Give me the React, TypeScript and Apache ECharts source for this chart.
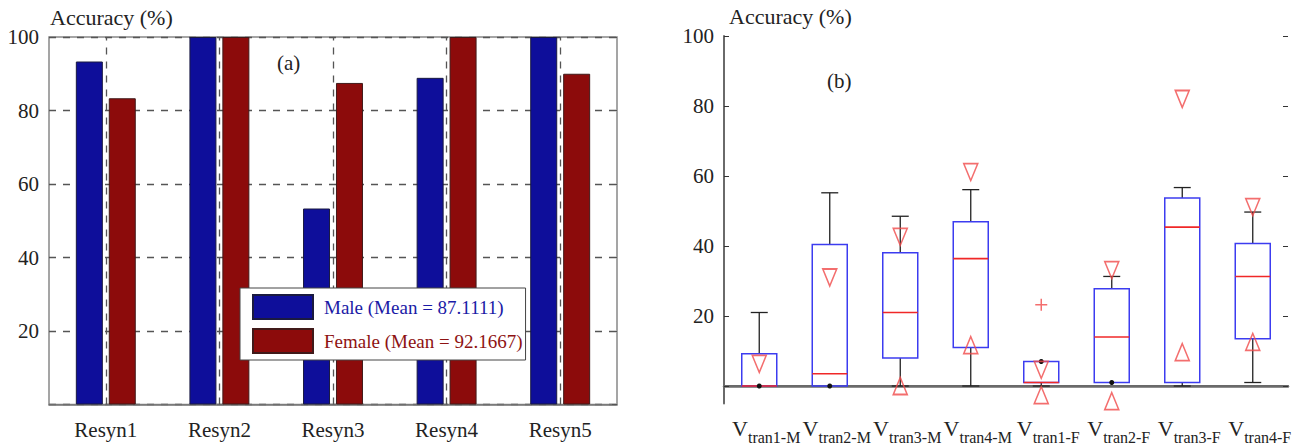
import React, { useEffect, useRef } from "react";
import * as echarts from "echarts";

const categories = ["Resyn1", "Resyn2", "Resyn3", "Resyn4", "Resyn5"];
const maleValues = [93.33, 100, 53.33, 88.89, 100];
const femaleValues = [83.33, 100, 87.5, 100, 90];
const maleName = "Male (Mean = 87.1111)";
const femaleName = "Female (Mean = 92.1667)";

const boxCategories = ["tran1-M", "tran2-M", "tran3-M", "tran4-M", "tran1-F", "tran2-F", "tran3-F", "tran4-F"];
const boxMin = [0, 0, 0, 0, 0, 1, 0, 1];
const boxQ1 = [0, 0, 8, 11, 1, 1, 1, 13.5];
const boxMedian = [0, 3.5, 21, 36.4, 1, 14, 45.4, 31.3];
const boxQ3 = [9.2, 40.4, 38.1, 46.9, 7, 27.8, 53.7, 40.7];
const boxMax = [21, 55.2, 48.5, 56.1, 7, 31.3, 56.7, 49.7];
const notchUpper = [6.3, 31, 42.6, 61.1, 4.6, 33.1, 82, 51.1];
const notchLower: (number | null)[] = [null, null, 0, 11.7, -2.6, -4.3, 9.7, 12.6];
const outliers: [number, number][] = [[4, 23.2]];

const rightTickLabels = [20, 40, 60, 80, 100];
const rightTicks = [0, 20, 40, 60, 80, 100];

const FONT = "Liberation Serif";
const BLUE = "#0e0e9a";
const RED = "#8c0b0b";
const BOX_BLUE = "#3c3cf0";
const MED_RED = "#f02828";
const TRI_RED = "#f04a4a";
const AXIS_GRAY = "#6a6a6a";

export default function App() {
  const ref = useRef<HTMLDivElement>(null);
  useEffect(() => {
    document.body.style.margin = "0";
    const chart = echarts.init(ref.current!, null, { renderer: "svg" });
    const txt = (size: number) => ({ fontFamily: FONT, fontSize: size, color: "#222" });
    const option: any = {
      animation: false,
      backgroundColor: "#fff",
      textStyle: { fontFamily: FONT },
      grid: [
        { left: 49, top: 37, width: 568, height: 367.5, show: true, borderColor: "#888", borderWidth: 1.5, backgroundColor: "transparent" },
        { left: 724, top: 36, width: 564, height: 367.5 },
      ],
      legend: {
        z: 20,
        data: [
          { name: maleName, textStyle: { color: "#1a1aa6" } },
          { name: femaleName, textStyle: { color: "#8e1212" } },
        ],
        orient: "vertical",
        left: 240,
        top: 288,
        itemWidth: 60,
        itemHeight: 24,
        itemGap: 8,
        padding: [6, 3, 6, 12],
        backgroundColor: "#fff",
        borderColor: "#444",
        borderWidth: 1,
        icon: "rect",
        textStyle: { fontFamily: FONT, fontSize: 19, padding: [0, 0, 0, 6] },
      },
      xAxis: [
        {
          type: "category", gridIndex: 0, data: categories,
          axisLine: { lineStyle: { color: "#777", width: 1.5 } },
          axisTick: { show: false },
          axisLabel: { ...txt(21), margin: 15 },
        },
        {
          type: "category", gridIndex: 1, data: boxCategories,
          axisLine: { lineStyle: { color: AXIS_GRAY, width: 2 } },
          axisTick: { show: false },
          axisLabel: {
            margin: 14,
            interval: 0,
            formatter: (v: string) => `{v|V}{s|${v}}`,
            padding: [0, 0, 0, 14],
            rich: {
              v: { ...txt(22), lineHeight: 22, verticalAlign: "top" },
              s: { ...txt(16), lineHeight: 16, verticalAlign: "top", padding: [12, 0, 0, 0] },
            },
          },
        },
        {
          type: "category", gridIndex: 1, data: boxCategories, position: "top",
          axisLine: { lineStyle: { color: AXIS_GRAY, width: 2.5 } },
          axisTick: { show: false }, axisLabel: { show: false },
        },
      ],
      yAxis: [
        {
          type: "value", gridIndex: 0, min: 0, max: 100, interval: 20,
          axisLine: { show: false },
          axisTick: { show: true, inside: true, length: 5, lineStyle: { color: "#555" } },
          axisLabel: { ...txt(21), margin: 10, showMinLabel: false },
          splitLine: { show: true, lineStyle: { type: [7, 7], color: "#555", width: 1.3 } },
        },
        {
          type: "value", gridIndex: 0, min: 0, max: 100, interval: 20, position: "right",
          axisLine: { show: false },
          axisTick: { show: true, inside: true, length: 5, lineStyle: { color: "#555" } },
          axisLabel: { show: false }, splitLine: { show: false },
        },
        {
          type: "value", gridIndex: 1, min: -5, max: 100,
          axisLine: { show: true, lineStyle: { color: AXIS_GRAY, width: 2 } },
          axisTick: { show: true, inside: true, length: 5, customValues: rightTicks, lineStyle: { color: "#333" } },
          axisLabel: { ...txt(21), margin: 10, customValues: rightTickLabels },
          splitLine: { show: false },
        },
        {
          type: "value", gridIndex: 1, min: -5, max: 100, position: "right",
          axisLine: { show: false },
          axisTick: { show: true, inside: true, length: 5, customValues: rightTicks, lineStyle: { color: "#333" } },
          axisLabel: { show: false }, splitLine: { show: false },
        },
      ],
      series: [
        {
          type: "line", xAxisIndex: 0, yAxisIndex: 0, data: [], z: 1,
          markLine: {
            silent: true, symbol: "none", label: { show: false },
            lineStyle: { type: [7, 7], color: "#555", width: 1.3 },
            data: categories.map((c) => ({ xAxis: c })),
          },
        },
        {
          name: maleName, type: "bar", xAxisIndex: 0, yAxisIndex: 0, data: maleValues,
          barWidth: 27, barGap: "22%",
          itemStyle: { color: BLUE, borderColor: "#1a1a40", borderWidth: 1 },
        },
        {
          name: femaleName, type: "bar", xAxisIndex: 0, yAxisIndex: 0, data: femaleValues,
          barWidth: 27, barGap: "22%",
          itemStyle: { color: RED, borderColor: "#401a1a", borderWidth: 1 },
        },
        {
          type: "custom", xAxisIndex: 1, yAxisIndex: 2,
          encode: { x: 0, y: [1, 2, 3, 4, 5] },
          data: boxCategories.map((_, i) => [i, boxMin[i], boxQ1[i], boxMedian[i], boxQ3[i], boxMax[i]]),
          renderItem: (params: any, api: any) => {
            const idx = api.value(0);
            const mn = api.value(1), q1 = api.value(2), md = api.value(3), q3 = api.value(4), mx = api.value(5);
            const x = api.coord([idx, q1])[0];
            const y = (v: number) => api.coord([idx, v])[1];
            const hw = 17.5, cw = 8.5;
            const black = { stroke: "#222", lineWidth: 1.3 };
            const children: any[] = [];
            const dots: any[] = [];
            if (mx > q3) {
              children.push({ type: "line", shape: { x1: x, y1: y(q3), x2: x, y2: y(mx) }, style: black });
              children.push({ type: "line", shape: { x1: x - cw, y1: y(mx), x2: x + cw, y2: y(mx) }, style: black });
            } else {
              dots.push({ type: "circle", shape: { cx: x, cy: y(q3), r: 2.5 }, style: { fill: "#111" } });
            }
            if (mn < q1) {
              children.push({ type: "line", shape: { x1: x, y1: y(q1), x2: x, y2: y(mn) }, style: black });
              children.push({ type: "line", shape: { x1: x - cw, y1: y(mn), x2: x + cw, y2: y(mn) }, style: black });
            } else {
              dots.push({ type: "circle", shape: { cx: x, cy: y(q1), r: 2.5 }, style: { fill: "#111" } });
            }
            children.push({
              type: "rect",
              shape: { x: x - hw, y: y(q3), width: hw * 2, height: y(q1) - y(q3) },
              style: { fill: "none", stroke: BOX_BLUE, lineWidth: 1.5 },
            });
            children.push({ type: "line", shape: { x1: x - hw, y1: y(md), x2: x + hw, y2: y(md) }, style: { stroke: MED_RED, lineWidth: 1.6 } });
            return { type: "group", children: children.concat(dots) };
          },
        },
        {
          type: "scatter", xAxisIndex: 1, yAxisIndex: 2,
          symbol: "triangle", symbolRotate: 180, symbolSize: [14, 17],
          itemStyle: { color: "rgba(255,255,255,0)", borderColor: TRI_RED, borderWidth: 1.6 },
          data: notchUpper.map((v, i) => [i, v]),
          z: 5,
        },
        {
          type: "scatter", xAxisIndex: 1, yAxisIndex: 2,
          symbol: "triangle", symbolSize: [14, 17],
          itemStyle: { color: "rgba(255,255,255,0)", borderColor: TRI_RED, borderWidth: 1.6 },
          data: notchLower.map((v, i) => [i, v]).filter((d) => d[1] !== null),
          z: 5,
        },
        {
          type: "scatter", xAxisIndex: 1, yAxisIndex: 2,
          symbol: "path://M0 5 L10 5 M5 0 L5 10", symbolSize: 12,
          itemStyle: { color: "rgba(255,255,255,0)", borderColor: TRI_RED, borderWidth: 1.5 },
          data: outliers,
          z: 5,
        },
      ],
      graphic: [
        { type: "text", left: 50, top: 6, style: { text: "Accuracy (%)", fontFamily: FONT, fontSize: 22, fill: "#222" } },
        { type: "text", left: 729, top: 5, style: { text: "Accuracy (%)", fontFamily: FONT, fontSize: 22, fill: "#222" } },
        { type: "text", left: 277, top: 52, style: { text: "(a)", fontFamily: FONT, fontSize: 21, fill: "#222" } },
        { type: "text", left: 827, top: 70, style: { text: "(b)", fontFamily: FONT, fontSize: 21, fill: "#222" } },
      ],
    };
    chart.setOption(option);
    return () => chart.dispose();
  }, []);
  return <div ref={ref} style={{ width: 1304, height: 446 }} />;
}
